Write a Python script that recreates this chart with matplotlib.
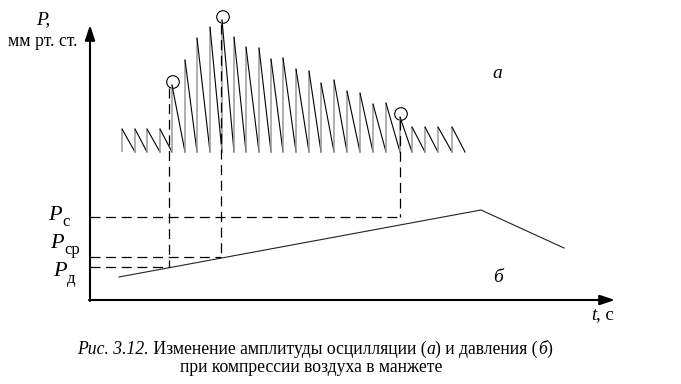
import matplotlib
matplotlib.use("Agg")
import matplotlib.pyplot as plt
from matplotlib.patches import Circle

# ---- data (t and P in picture units, origin at axes corner) ----
tooth_t = [32, 45, 57, 70, 82, 95, 107, 120, 132, 144, 156, 169, 181, 193,
           206, 219, 231, 244, 257, 270, 283, 296, 310, 322, 335, 348, 362]
tooth_peak = [171, 171, 171, 171, 215, 240, 262, 273, 280, 263, 253, 252, 241, 242,
              231, 229, 217, 220, 209, 207, 196, 197, 183, 173, 173, 173, 173]
tooth_end_t = 375
osc_base = 148

pressure_t = [29, 391, 474]
pressure_p = [23, 90, 52]

marked_t = [82, 132, 310]          # circled oscillations
marked_peak = [215, 280, 183]
dash_t = [79, 131, 310]            # dashed verticals
dash_top = [212, 276, 180]
levels = [33, 43, 83]              # P_д, P_ср, P_с
level_names = ["д", "ср", "с"]

serif = "Liberation Serif"

fig = plt.figure(figsize=(6.81, 3.84), dpi=100)
ax = fig.add_axes([0, 0, 1, 1])
ax.set_xlim(-90, 591)
ax.set_ylim(-84, 300)
ax.axis("off")

# axes with arrows
ax.annotate("", xy=(0, 275), xytext=(0, -1),
            arrowprops=dict(arrowstyle="-|>,head_length=0.9,head_width=0.3", lw=1.5, color="black",
                            shrinkA=0, shrinkB=0))
ax.annotate("", xy=(525, 0), xytext=(-1, 0),
            arrowprops=dict(arrowstyle="-|>,head_length=0.9,head_width=0.3", lw=1.5, color="black",
                            shrinkA=0, shrinkB=0))

# oscillation sawtooth
n = len(tooth_t)
for i in range(n):
    t0 = tooth_t[i]
    t1 = tooth_t[i + 1] if i + 1 < n else tooth_end_t
    ax.plot([t0, t0], [osc_base, tooth_peak[i]], color="#9a9a9a", lw=1.1, solid_capstyle="butt")
    ax.plot([t0, t1], [tooth_peak[i], osc_base], color="black", lw=0.8)

# circles at marked peaks
for t, p in zip(marked_t, marked_peak):
    ax.add_patch(Circle((t + 1, p + 3), 6.3, fill=False, lw=0.8, ec="black"))

# pressure line
ax.plot(pressure_t, pressure_p, color="#222222", lw=0.8)

# dashed guides
dash = (0, (8, 4.5))
for t, top, lev in zip(dash_t, dash_top, levels):
    ax.plot([t, t], [top, lev], color="black", lw=0.9, linestyle=dash)
    ax.plot([0, t], [lev, lev], color="black", lw=0.9, linestyle=dash)

# y-axis label
ax.text(-47, 276, "P,", fontsize=14, family=serif, style="italic", ha="center", va="baseline")
ax.text(-47, 254, "мм рт. ст.", fontsize=12.8, family=serif, ha="center", va="baseline")

# level labels
lab_pos = {"с": (-42, 85), "ср": (-40, 57), "д": (-37, 28)}
for name in level_names:
    x, y = lab_pos[name]
    ax.text(x, y, "P", fontsize=16, family=serif, style="italic", ha="left", va="center")
    ax.text(x + 14, y - 7, name, fontsize=12, family=serif, ha="left", va="center")

ax.text(407, 227, "а", fontsize=14, family=serif, style="italic", ha="center", va="center")
ax.text(408, 22, "б", fontsize=14, family=serif, style="italic", ha="center", va="center")

# t axis label
ax.text(506, -15, "t", fontsize=13.5, family=serif, style="italic", ha="right", va="center")
ax.text(506, -15, ", с", fontsize=13.5, family=serif, ha="left", va="center")

# caption (mixed italic / upright pieces, centred as a whole line)
cap_pieces = [("Рис. 3.12.", "italic"),
              (" Изменение амплитуды осцилляции (", "normal"),
              ("а", "italic"),
              (") и давления (", "normal"),
              ("б", "italic"),
              (")", "normal")]
fig.canvas.draw()
r = fig.canvas.get_renderer()
texts = []
for s, st in cap_pieces:
    texts.append(ax.text(0, -49, s, fontsize=12.7, family=serif, style=st,
                         ha="left", va="center"))
widths = [t.get_window_extent(r).width for t in texts]
# data units == pixels here (681 px over 681 units)
x = 225 - sum(widths) / 2
for t, w in zip(texts, widths):
    t.set_x(x)
    x += w
ax.text(221, -67, "при компрессии воздуха в манжете", fontsize=12.7, family=serif,
        ha="center", va="center")

fig.savefig("out.png", dpi=100)
